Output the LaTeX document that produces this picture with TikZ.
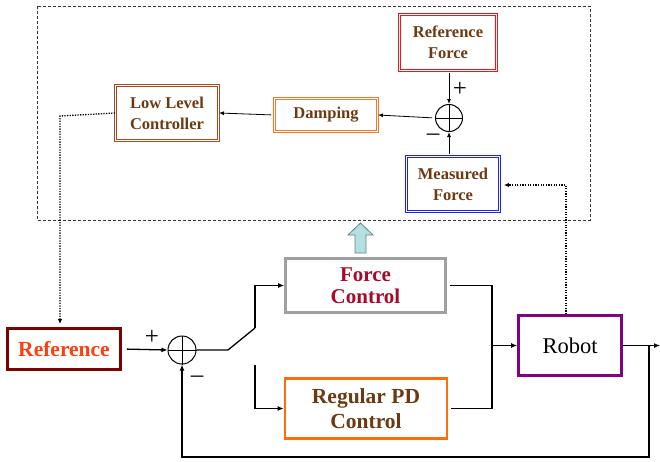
\documentclass[tikz,border=0pt]{standalone}
\usepackage{fontspec}
\setmainfont{Liberation Serif}
\usetikzlibrary{arrows.meta}
\definecolor{txtbrown}{RGB}{107,58,18}
\definecolor{fcred}{RGB}{165,10,45}
\definecolor{reftxt}{RGB}{250,65,20}
\definecolor{refborder}{RGB}{125,0,0}
\definecolor{pdorange}{RGB}{255,110,10}
\definecolor{fcgray}{RGB}{160,160,160}
\definecolor{robpurple}{RGB}{130,0,130}
\definecolor{llcbrown}{RGB}{170,75,30}
\definecolor{dampor}{RGB}{245,120,40}
\definecolor{rfred}{RGB}{240,20,20}
\definecolor{mfblue}{RGB}{30,30,240}
\definecolor{bluefill}{RGB}{180,224,226}
\definecolor{blueedge}{RGB}{100,130,130}
\begin{document}
\begin{tikzpicture}[x=1pt,y=-1pt,
  smallbox/.style={double=white, double distance=1.3pt, line width=0.9pt,
    font=\fontsize{16.5}{21}\selectfont\bfseries, text=txtbrown, align=center, inner sep=0pt},
  bigbox/.style={line width=2.6pt, align=center, inner sep=0pt},
  sumnode/.style={circle, draw, line width=1pt, inner sep=0pt},
  arr/.style={line width=1.3pt, -{Latex[length=6pt,width=5pt]}},
  thinarr/.style={line width=0.8pt, -{Latex[length=5pt,width=4pt]}},
  ln/.style={line width=1.3pt},
  dotarr/.style={line width=1.3pt, dash pattern=on 1.3pt off 1.3pt, -{Latex[length=5pt,width=4.5pt]}},
  sign/.style={font=\fontsize{25}{25}\selectfont, inner sep=0pt}
]
\useasboundingbox (0,0) rectangle (660,461);
% dashed frame
\draw[dash pattern=on 3pt off 2pt, line width=0.6pt, black!80] (37,6) rectangle (590,220);
% top nodes
\node[smallbox, draw=rfred, minimum width=97pt, minimum height=56pt] (rf) at (448,42.5) {Reference\\Force};
\node[smallbox, draw=mfblue, minimum width=93pt, minimum height=55pt] (mf) at (453,184) {Measured\\Force};
\node[smallbox, draw=dampor, minimum width=103pt, minimum height=33pt] (damp) at (326,115) {Damping};
\node[smallbox, draw=llcbrown, minimum width=103pt, minimum height=55pt] (llc) at (167,113) {Low Level\\Controller};
\node[sumnode, minimum size=27pt] (s1) at (449,118) {};
\draw[line width=1pt] (s1.north) -- (s1.south) (s1.west) -- (s1.east);
\node[sign] (p1) at (460,89) {+};
\node[sign] (m1) at (433,137) {\textendash};
\draw[thinarr] (s1 |- rf.south) ++(0,2) -- (s1.north);
\draw[thinarr] (s1 |- mf.north) ++(0,-2) -- (s1.south);
\draw[thinarr, shorten <=3pt] (s1.west) -- (damp.east);
\draw[thinarr, shorten <=3pt] (damp.west) -- (llc.east);
% bottom nodes
\node[bigbox, draw=refborder, minimum width=113pt, minimum height=41.5pt,
  font=\fontsize{21.5}{23}\selectfont\bfseries, text=reftxt] (ref) at (64,349) {Reference};
\node[sumnode, minimum size=28pt] (s2) at (182,350) {};
\draw[line width=1pt] (s2.north) -- (s2.south) (s2.west) -- (s2.east);
\node[sign] (p2) at (152,337) {+};
\node[sign] (m2) at (197,379) {\textendash};
\node[bigbox, draw=fcgray, minimum width=160pt, minimum height=54pt,
  font=\fontsize{21}{21.5}\selectfont\bfseries, text=fcred] (fc) at (365.5,285.5) {Force\\Control};
\node[bigbox, draw=pdorange, minimum width=162pt, minimum height=60pt,
  font=\fontsize{21.5}{25}\selectfont\bfseries, text=txtbrown] (pd) at (366,408.5) {Regular PD\\Control};
\node[bigbox, draw=robpurple, minimum width=103pt, minimum height=60pt,
  font=\fontsize{22.5}{24}\selectfont] (robot) at (570,345.5) {Robot};
% coordinates
\coordinate (sw0) at (228,350);
\coordinate (sw1) at (255,328);
\coordinate (sw2) at (255,365);
\coordinate (j) at (492,345.5);
\coordinate (out) at (660,345.5);
\coordinate (br) at (649,345.5);
\coordinate (fb) at (649,457);
\coordinate (d1) at (60,116);
\coordinate (d2) at (566,185);
% connectors
\draw[arr, shorten <=5pt] (ref.east) -- (s2.west);
\draw[ln] (s2.east) -- (sw0) -- (sw1);
\draw[arr] (sw1) |- (fc.west);
\draw[arr] (sw2) |- (pd.west);
\draw[ln, shorten <=3pt] (fc.east) -| (j);
\draw[ln, shorten <=3pt] (pd.east) -| (j);
\draw[arr] (j) -- (robot.west);
\draw[arr] (robot.east) -- (out);
\draw[arr] (br) -- (fb) -- (fb -| s2) -- (s2.south);
\draw[dotarr, shorten >=3pt] (llc.west) -- (d1) -- (d1 |- ref.north);
\draw[dotarr, shorten >=4pt] (d2 |- robot.north) -- (d2) -- (mf.east |- d2);
% block arrow
\draw[fill=bluefill, draw=blueedge, line width=0.8pt]
  (355,253) -- (366,253) -- (366,235) -- (373,235) -- (360.5,223) -- (348,235) -- (355,235) -- cycle;
\end{tikzpicture}
\end{document}
